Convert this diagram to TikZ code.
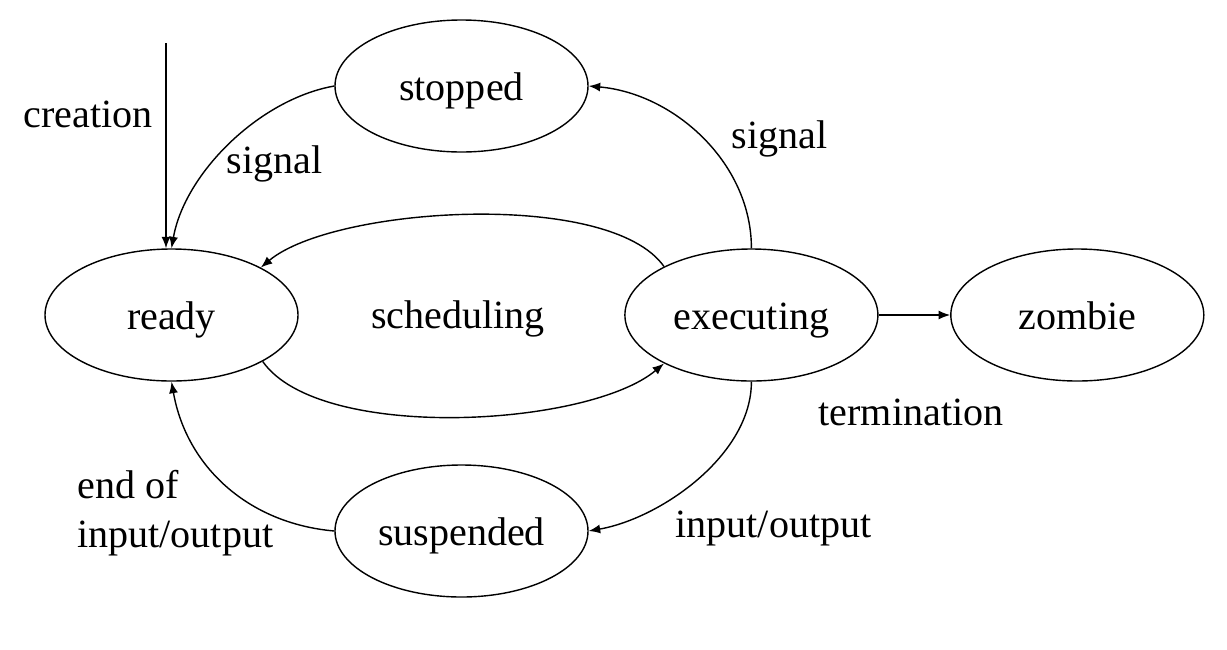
\documentclass[tikz,border=0pt]{standalone}
\usepackage{fontspec}
\setmainfont{Liberation Serif}
\usetikzlibrary{positioning,shapes.geometric,arrows.meta}
\tikzstyle{state} = [draw, ellipse, line width=0.8pt, minimum width=5.06cm, minimum height=2.64cm, inner sep=0pt, text height=0.72cm, text depth=0.16cm]
\tikzstyle{lbl} = [inner sep=0pt, anchor=base]
\tikzstyle{arrow} = [line width=0.8pt, -{Latex[length=2.3mm,width=1.8mm]}]

\begin{document}
\begin{tikzpicture}[font=\fontsize{22.8}{27.8}\selectfont]
    \useasboundingbox (0,0) rectangle (24.54,-12.98);

    \node[state                       ] (ready)     at (3.43,-6.30)  {ready};
    \node[state, right=6.51cm of ready] (executing)                  {executing};
    \node[state, right=1.43cm of executing] (zombie)                 {zombie};
    \node[state                       ] (stopped)   at (9.23,-1.72)  {stopped};
    \node[state                       ] (suspended) at (9.23,-10.62) {suspended};

    \coordinate (create) at (3.32,-0.86);

    \node[lbl] (creationlbl) at (1.76,-2.54)  {creation};
    \node[lbl] (signalleft)  at (5.49,-3.46)  {signal};
    \node[lbl] (signalright) at (15.59,-2.96) {signal};
    \node[lbl] (schedlbl)    at (9.16,-6.56)  {scheduling};
    \node[lbl] (termlbl)     at (18.22,-8.50) {termination};
    \node[lbl] (iolbl)       at (15.47,-10.74) {input/output};
    \node[inner sep=0pt, anchor=west, align=left] (endiolbl) at (1.54,-10.27) {end of\\input/output};

    \draw[arrow] (create) -- (create |- ready.north);
    \draw[arrow] (stopped.west) to[out=190, in=80, looseness=0.85] (ready.north);
    \draw[arrow] (executing.north) to[out=90, in=-5, looseness=0.95] (stopped.east);
    \draw[arrow] (executing.151) to[out=125, in=40, looseness=0.6] (ready.28);
    \draw[arrow] (ready.-27) to[out=-55, in=-140, looseness=0.63] (executing.209);
    \draw[arrow] (executing) -- (zombie);
    \draw[arrow] (executing.south) to[out=-90, in=10, looseness=0.85] (suspended.east);
    \draw[arrow] (suspended.west) to[out=175, in=-80] (ready.south);

\end{tikzpicture}
\end{document}
